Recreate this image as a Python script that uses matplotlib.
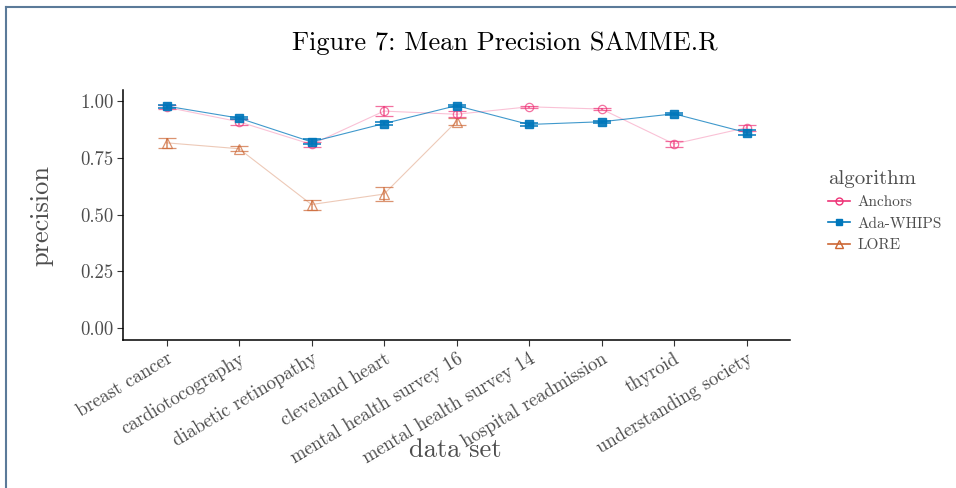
import numpy as np
import matplotlib.pyplot as plt
from matplotlib.lines import Line2D

plt.rcParams['font.family'] = ['cmr10', 'DejaVu Serif']
plt.rcParams['axes.unicode_minus'] = False
plt.rcParams['mathtext.fontset'] = 'cm'

datasets = ['breast cancer', 'cardiotocography', 'diabetic retinopathy',
            'cleveland heart', 'mental health survey 16', 'mental health survey 14',
            'hospital readmission', 'thyroid', 'understanding society']

anchors = [0.974, 0.910, 0.810, 0.957, 0.943, 0.976, 0.966, 0.812, 0.884]
anchors_err = [0.008, 0.014, 0.011, 0.021, 0.014, 0.005, 0.005, 0.013, 0.013]
ada = [0.979, 0.926, 0.821, 0.902, 0.981, 0.898, 0.910, 0.945, 0.862]
ada_err = [0.007, 0.006, 0.011, 0.006, 0.005, 0.006, 0.004, 0.004, 0.012]
lore = [0.817, 0.791, 0.545, 0.591, 0.911]
lore_err = [0.022, 0.012, 0.022, 0.031, 0.015]

c_anchors = '#EE3377'
c_ada = '#0077BB'
c_lore = '#CC6633'

fig = plt.figure(figsize=(9.56, 4.88), dpi=100)
ax = fig.add_axes([123 / 956, 1 - 340 / 488, (790 - 123) / 956, (340 - 90) / 488])

x = np.arange(1, len(datasets) + 1)
xl = np.arange(1, len(lore) + 1)

ax.plot(x, anchors, color=c_anchors, lw=0.8, alpha=0.3, zorder=2)
ax.plot(x, ada, color=c_ada, lw=0.8, alpha=0.75, zorder=3)
ax.plot(xl, lore, color=c_lore, lw=0.8, alpha=0.35, zorder=1)

ax.errorbar(xl, lore, yerr=lore_err, fmt='^', ms=7, mfc='none', mec=c_lore,
            mew=0.9, ecolor=c_lore, elinewidth=1.2, capsize=6.5, capthick=1.2,
            alpha=0.7, zorder=4)
ax.errorbar(x, anchors, yerr=anchors_err, fmt='o', ms=6, mfc='none', mec=c_anchors,
            mew=0.9, ecolor=c_anchors, elinewidth=1.2, capsize=6.5, capthick=1.2,
            alpha=0.7, zorder=5)
ax.errorbar(x, ada, yerr=ada_err, fmt='s', ms=6, color=c_ada, mec=c_ada,
            ecolor=c_ada, elinewidth=1.2, capsize=6.5, capthick=1.2,
            alpha=0.9, zorder=6)

ax.set_xlim(0.4, len(datasets) + 0.6)
ax.set_ylim(-0.0525, 1.05)
ax.set_xticks(x)
ax.set_xticklabels(datasets, rotation=31, ha='right', rotation_mode='anchor')
ax.set_yticks([0, 0.25, 0.5, 0.75, 1.0])
ax.set_yticklabels(['0.00', '0.25', '0.50', '0.75', '1.00'])
ax.tick_params(axis='both', labelsize=13.5, labelcolor='#4D4D4D', length=4,
               width=0.8, color='#333333', pad=3)
for s in ['top', 'right']:
    ax.spines[s].set_visible(False)
for s in ['left', 'bottom']:
    ax.spines[s].set_linewidth(1.1)

ax.set_ylabel('precision', fontsize=19, color='#4D4D4D')
ax.yaxis.set_label_coords((53 - 123) / 667, 0.5)
ax.set_xlabel('data set', fontsize=19, color='#4D4D4D')
ax.xaxis.set_label_coords((455 - 123) / 667, -(450 - 340) / 250)
ax.xaxis.label.set_va('center')

fig.text(505 / 956, 1 - 43 / 488, 'Figure 7: Mean Precision SAMME.R',
         fontsize=19, ha='center', va='center')

handles = [
    Line2D([], [], color=c_anchors, marker='o', mfc='none', ms=5, lw=1.2),
    Line2D([], [], color=c_ada, marker='s', ms=5, lw=1.2),
    Line2D([], [], color=c_lore, marker='^', mfc='none', ms=6, lw=1.2),
]
leg = fig.legend(handles, ['Anchors', 'Ada-WHIPS', 'LORE'], title='algorithm',
                 loc='upper left', bbox_to_anchor=(822 / 956, 1 - 164 / 488),
                 frameon=False, fontsize=11, title_fontsize=15, handlelength=1.4,
                 handletextpad=0.5, labelspacing=0.5, borderaxespad=0)
leg._legend_box.align = 'left'
for t in leg.get_texts():
    t.set_color('#4D4D4D')
leg.get_title().set_color('#4D4D4D')

# thin page frame at top and left
fig.add_artist(Line2D([6 / 956, 1], [1 - 7 / 488, 1 - 7 / 488],
                      transform=fig.transFigure, color='#5B7A99', lw=1.5))
fig.add_artist(Line2D([6 / 956, 6 / 956], [0, 1 - 7 / 488],
                      transform=fig.transFigure, color='#5B7A99', lw=1.5))

fig.savefig('out.png', dpi=100)
